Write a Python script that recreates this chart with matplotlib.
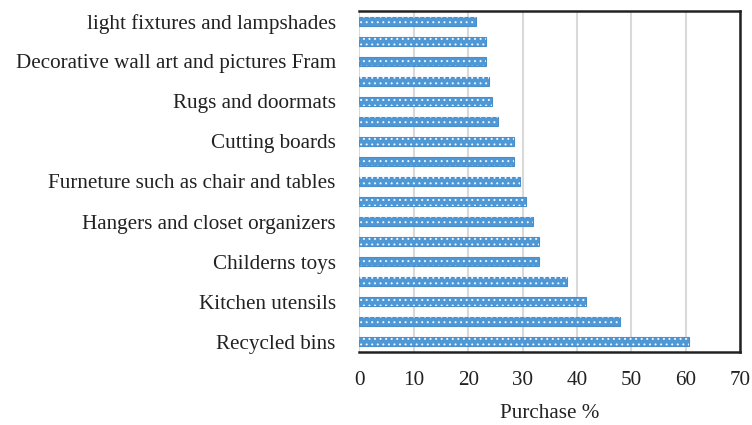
import numpy as np
import matplotlib.pyplot as plt

plt.rcParams['font.family'] = ['Liberation Serif', 'DejaVu Serif']

# categorias de arriba hacia abajo (solo una de cada dos lleva etiqueta)
etiquetas = [
    "light fixtures and lampshades", "",
    "Decorative wall art and pictures Fram", "",
    "Rugs and doormats", "",
    "Cutting boards", "",
    "Furneture such as chair and tables", "",
    "Hangers and closet organizers", "",
    "Childerns toys", "",
    "Kitchen utensils", "",
    "Recycled bins",
]
compras = [21.5, 23.2, 23.2, 23.8, 24.4, 25.4, 28.4, 28.4, 29.5,
           30.6, 31.9, 33.0, 33.0, 38.1, 41.7, 47.9, 60.6]

azul = "#4f98d6"

fig = plt.figure(figsize=(7.52, 4.25), dpi=100)
ax = fig.add_axes([0.478, 0.172, 0.506, 0.802])

y = np.arange(len(compras))[::-1]
ax.barh(y, compras, height=0.45, color=azul, edgecolor="#4a8fcc", linewidth=0.8, zorder=3)
# patron punteado blanco encima
plt.rcParams['hatch.linewidth'] = 0.7
ax.barh(y, compras, height=0.45, facecolor="none", edgecolor="#eef5fc",
        linewidth=0, hatch="...", zorder=4)

ax.set_xlim(0, 70)
ax.set_ylim(-0.5, len(compras) - 0.5)
ax.set_xticks(np.arange(0, 71, 10))
ax.set_yticks(y)
ax.set_yticklabels(etiquetas)
ax.tick_params(axis="both", length=0, labelsize=15.2, colors="#222222")
ax.tick_params(axis="y", pad=17)
ax.tick_params(axis="x", pad=14)
ax.xaxis.grid(True, color="#d9d9d9", linewidth=1.5, zorder=0)
ax.set_axisbelow(True)

for lado in ["top", "right", "bottom"]:
    ax.spines[lado].set_color("#222222")
    ax.spines[lado].set_linewidth(1.8)
ax.spines["left"].set_visible(False)

ax.set_xlabel("Purchase %", fontsize=15.2, labelpad=10, color="#222222")

fig.savefig("out.png", dpi=100)
